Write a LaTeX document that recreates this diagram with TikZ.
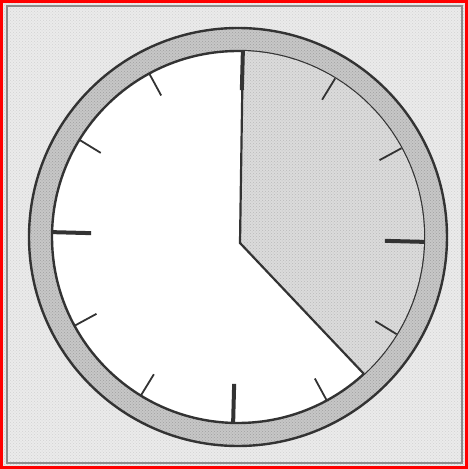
\documentclass[tikz,border=0pt]{standalone}
\usetikzlibrary{calc,patterns}
\definecolor{bggrey}{gray}{0.92}
\definecolor{sectorgrey}{gray}{0.86}
\definecolor{rimgrey}{gray}{0.78}
\definecolor{inkgrey}{gray}{0.2}
\definecolor{framegrey}{gray}{0.55}
\tikzset{
  rimline/.style={draw=inkgrey, line width=2.4pt},
  handline/.style={draw=inkgrey, line width=2.2pt, line cap=round},
  thintick/.style={draw=inkgrey, line width=1.8pt},
  thicktick/.style={draw=inkgrey, line width=4pt},
  speckle/.style={pattern=crosshatch dots, pattern color=#1},
}
\begin{document}
\begin{tikzpicture}[x=1pt,y=1pt]
  \useasboundingbox (0,0) rectangle (468,469);
  % background
  \fill[bggrey] (0,0) rectangle (468,469);
  \fill[speckle=gray!35] (0,0) rectangle (468,469);
  \draw[framegrey, line width=1.2pt] (7,6) rectangle (462,463);
  \draw[red, line width=3pt] (1.5,1.5) rectangle (466.5,467.5);
  % clock geometry
  \coordinate (C) at (238,232);
  \coordinate (P) at (240,226);
  \coordinate (T) at ($(C)+(88.5:186)$);
  \coordinate (E) at ($(C)+(-47.4:186)$);
  % rim
  \fill[rimgrey, even odd rule] (C) circle[radius=209] (C) circle[radius=186];
  \fill[speckle=gray!75, even odd rule] (C) circle[radius=209] (C) circle[radius=186];
  \fill[white] (C) circle[radius=186];
  \draw[rimline] (C) circle[radius=209];
  \draw[rimline] (C) circle[radius=186];
  % shaded sector
  \fill[sectorgrey] (P) -- (T) arc[start angle=88.5, end angle=-47.4, radius=186] -- cycle;
  \fill[speckle=gray!55] (P) -- (T) arc[start angle=88.5, end angle=-47.4, radius=186] -- cycle;
  % ticks
  \foreach \h in {1,2,4,5,7,8,10,11}{
    \draw[thintick] ($(C)+(88.5-30*\h:186)$) -- ($(C)+(88.5-30*\h:161)$);
  }
  \foreach \h in {0,3,6,9}{
    \draw[thicktick] ($(C)+(88.5-30*\h:186)$) -- ($(C)+(88.5-30*\h:147)$);
  }
  % hands
  \draw[handline] (T) -- (P) -- (E);
\end{tikzpicture}
\end{document}
